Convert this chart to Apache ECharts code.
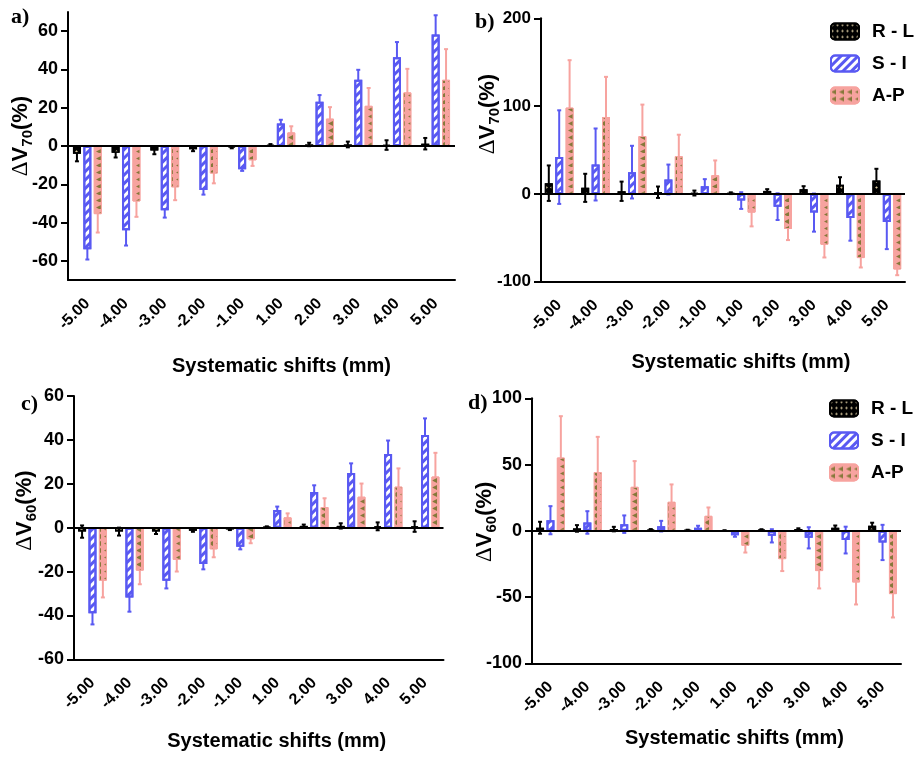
<!DOCTYPE html>
<html><head><meta charset="utf-8">
<script src="https://cdn.jsdelivr.net/npm/echarts@6/dist/echarts.min.js"></script>
<style>html,body{margin:0;padding:0;background:#fff}#c{width:918px;height:762px}</style>
</head><body><div id="c"></div>
<script>
const categories = ['-5.00','-4.00','-3.00','-2.00','-1.00','1.00','2.00','3.00','4.00','5.00'];
const seriesNames = ['R - L','S - I','A-P'];

// Panel a: ΔV70 (left)
const aRL = [-4, -3.5, -2.3, -1.7, -0.7, 0.5, 0.8, 0.8, 0.5, 1.2];
const aRLerr = [4, 2.5, 2, 1, 0.5, 0.5, 0.9, 1.5, 2.5, 3];
const aSI = [-54, -44, -33.6, -23, -12.2, 11.7, 23.1, 34.6, 46.3, 58.3];
const aSIerr = [5.3, 8, 3.8, 2.4, 0.8, 2, 3.5, 5.2, 8, 10];
const aAP = [-35.6, -29, -21.6, -14.4, -7.5, 7.1, 14.3, 21, 28, 34.6];
const aAPerr = [9.6, 8, 6.7, 5.1, 2.9, 3.2, 6, 9.3, 12.3, 16];

// Panel b: ΔV70 (right)
const bRL = [12.2, 6.9, 3, 1.9, 1, 0.8, 3.4, 5.3, 10.3, 15.2];
const bRLerr = [20.2, 16, 11, 6.5, 2.8, 1, 2, 3.5, 8.7, 13.4];
const bSI = [41.9, 33.5, 24.8, 16.4, 8.8, -7.6, -14.5, -21.3, -27.4, -32];
const bSIerr = [53.3, 41, 30, 17, 8, 9.5, 15.2, 21.7, 25.9, 30.9];
const bAP = [98.3, 87.6, 65.9, 43, 21.3, -21.3, -40, -57.9, -73.1, -86.1];
const bAPerr = [54, 45.7, 35.8, 24.4, 16.8, 15.7, 12.6, 14.5, 10.7, 6.5];

// Panel c: ΔV60 (left)
const cRL = [-1.8, -1.8, -1.8, -1.4, -0.8, 0.3, 0.8, 0.8, 0.6, 0.5];
const cRLerr = [2.8, 1.8, 1.1, 0.5, 0.3, 0.3, 0.6, 1.2, 1.8, 2.4];
const cSI = [-39, -31.8, -24.2, -16.6, -8.7, 8.1, 16.3, 24.9, 33.6, 42.2];
const cSIerr = [5.1, 6.5, 3.5, 2.4, 1.2, 1.5, 3, 4.4, 6.1, 7.6];
const cAP = [-24.2, -19.6, -14.7, -9.9, -5.3, 4.7, 9.4, 14.1, 18.7, 23.3];
const cAPerr = [7.6, 6.2, 5.3, 3.6, 1.8, 1.8, 4, 6, 8.3, 10.8];

// Panel d: ΔV60 (right)
const dRL = [2.3, 1.8, 1.3, 0.8, 0.5, 0.2, 0.8, 1.3, 2.3, 3.8];
const dRLerr = [4.5, 2.5, 1.7, 0.5, 0.3, 0.2, 0.4, 0.6, 1.7, 2.3];
const dSI = [8, 6.3, 5, 3.5, 2.3, -3.3, -3.8, -5.3, -7, -8.8];
const dSIerr = [10.6, 8.5, 6.6, 4, 1.5, 1.2, 5, 8, 10.1, 13.3];
const dAP = [55.3, 44.3, 33.2, 21.9, 11.3, -11.3, -21.4, -30.4, -39, -47.8];
const dAPerr = [31.2, 26.6, 19.4, 13.1, 6.3, 5.1, 9, 13.1, 16.6, 17.6];

const aTicks = [-60, -40, -20, 0, 20, 40, 60];
const bTicks = [-100, 0, 100, 200];
const cTicks = [-60, -40, -20, 0, 20, 40, 60];
const dTicks = [-100, -50, 0, 50, 100];

const FONT = 'Liberation Sans, Arial, sans-serif';
const BLUE = '#5959f2';
const PINK = '#f7a39f';
const OLIVE = '#86783a';

const styles = [
  { color: '#000', borderColor: '#000', borderWidth: 1.5,
    decal: { symbol: 'diamond', symbolSize: 0.9, color: '#d9c9a0', dashArrayX: [3, 2], dashArrayY: [3, 3] } },
  { color: '#fff', borderColor: BLUE, borderWidth: 2,
    decal: { symbol: 'rect', symbolSize: 1, color: BLUE, dashArrayX: [1, 0], dashArrayY: [3, 2.5], rotation: -Math.PI / 4 } },
  { color: PINK, borderColor: PINK, borderWidth: 1,
    decal: { symbol: 'triangle', symbolSize: 1, color: OLIVE, dashArrayX: [5, 2], dashArrayY: [5, 3], rotation: -Math.PI / 2 } }
];
const errColors = ['#000', BLUE, PINK];

const panels = [
  { vals: [aRL, aSI, aAP], errs: [aRLerr, aSIerr, aAPerr], ticks: aTicks, min: -70, max: 70,
    grid: { left: 68, right: 463, top: 12, bottom: 482 }, ylab: 18, sub: '70', nameGap: 33, namePad: 20, xGap: 76, xShift: 40 },
  { vals: [bRL, bSI, bAP], errs: [bRLerr, bSIerr, bAPerr], ticks: bTicks, min: -100, max: 200,
    grid: { left: 541, right: 13, top: 18.3, bottom: 480.3 }, ylab: 17, sub: '70', nameGap: 39, namePad: 72, xGap: 71, xShift: 36 },
  { vals: [cRL, cSI, cAP], errs: [cRLerr, cSIerr, cAPerr], ticks: cTicks, min: -60, max: 60,
    grid: { left: 74, right: 474.5, top: 396, bottom: 102.7 }, ylab: 18, sub: '60', nameGap: 35, namePad: 34, xGap: 72, xShift: 36 },
  { vals: [dRL, dSI, dAP], errs: [dRLerr, dSIerr, dAPerr], ticks: dTicks, min: -100, max: 100,
    grid: { left: 532, right: 17, top: 398.3, bottom: 98.7 }, ylab: 18, sub: '60', nameGap: 33, namePad: 18, xGap: 65, xShift: 36 }
];

const grid = [], xAxis = [], yAxis = [], series = [];
const BW = 8, GAP = 0.3;
panels.forEach((p, gi) => {
  grid.push(p.grid);
  xAxis.push({
    type: 'category', gridIndex: gi, data: categories,
    axisLine: { onZero: false, lineStyle: { color: '#000', width: 2 } },
    axisTick: { alignWithLabel: true, length: 6, lineStyle: { width: 2, color: '#000' } },
    axisLabel: { interval: 0, rotate: 45, fontSize: 16, fontWeight: 'bold', color: '#000', fontFamily: FONT, margin: 21 },
    name: 'Systematic shifts (mm)', nameLocation: 'middle', nameGap: p.xGap, nameMoveOverlap: false,
    nameTextStyle: { fontSize: 20, fontWeight: 'bold', color: '#000', fontFamily: FONT, padding: [0, 0, 0, p.xShift] }
  });
  yAxis.push({
    type: 'value', gridIndex: gi, min: p.min, max: p.max,
    splitLine: { show: false },
    axisLine: { show: true, lineStyle: { color: '#000', width: 2 } },
    axisTick: { show: true, length: 7, customValues: p.ticks, lineStyle: { width: 2, color: '#000' } },
    axisLabel: { customValues: p.ticks, fontSize: p.ylab, fontWeight: 'bold', color: '#000', fontFamily: FONT, margin: 10 },
    name: '{d|Δ}{a|V}{s|' + p.sub + '}{a|(%)}', nameLocation: 'middle', nameGap: p.nameGap, nameRotate: 90,
    nameMoveOverlap: false,
    nameTextStyle: {
      padding: [0, 0, 0, p.namePad],
      rich: {
        d: { fontFamily: 'Liberation Serif, serif', fontSize: 23, color: '#000', lineHeight: 28 },
        a: { fontFamily: FONT, fontSize: 22, fontWeight: 'bold', color: '#000', lineHeight: 28 },
        s: { fontFamily: FONT, fontSize: 15, fontWeight: 'bold', color: '#000', lineHeight: 28, verticalAlign: 'bottom', padding: [7, 0, 0, 0] }
      }
    }
  });
  p.vals.forEach((vals, k) => {
    const s = {
      type: 'bar', name: seriesNames[k], xAxisIndex: gi, yAxisIndex: gi,
      data: vals, barWidth: BW, barGap: (GAP * 100) + '%', z: 3,
      itemStyle: styles[k]
    };
    if (k === 0) {
      s.markLine = { silent: true, symbol: 'none', label: { show: false },
        lineStyle: { color: '#000', width: 2, type: 'solid' }, data: [{ yAxis: 0 }] };
    }
    series.push(s);
  });
  p.vals.forEach((vals, k) => {
    const errs = p.errs[k];
    const off = (k - 1) * BW * (1 + GAP);
    series.push({
      type: 'custom', name: seriesNames[k] + ' err', xAxisIndex: gi, yAxisIndex: gi, z: 1, silent: true,
      data: vals.map((v, i) => [i, v, errs[i]]),
      encode: { x: 0, y: 1 },
      renderItem: function (params, api) {
        const i = api.value(0), v = api.value(1), e = api.value(2);
        const lo = api.coord([i, v - e]);
        const hi = api.coord([i, v + e]);
        const x = lo[0] + off;
        const st = { stroke: errColors[k], lineWidth: 2 };
        return { type: 'group', children: [
          { type: 'line', shape: { x1: x, y1: lo[1], x2: x, y2: hi[1] }, style: st },
          { type: 'line', shape: { x1: x - 2, y1: lo[1], x2: x + 2, y2: lo[1] }, style: st },
          { type: 'line', shape: { x1: x - 2, y1: hi[1], x2: x + 2, y2: hi[1] }, style: st }
        ] };
      }
    });
  });
});

const legendCommon = {
  orient: 'vertical', itemWidth: 28, itemHeight: 16, itemGap: 13,
  data: seriesNames, selectedMode: false,
  textStyle: { fontSize: 19, fontWeight: 'bold', color: '#000', fontFamily: FONT, padding: [0, 0, 0, 8] }
};

const labelStyle = { fontFamily: 'Liberation Serif, serif', fontSize: 22, fontWeight: 'bold', color: '#000' };

const chart = echarts.init(document.getElementById('c'), null, { renderer: 'canvas' });
chart.setOption({
  animation: false,
  backgroundColor: '#fff',
  title: [
    { text: 'a)', left: 6, top: 1, textStyle: labelStyle },
    { text: 'b)', left: 470, top: 6, textStyle: labelStyle },
    { text: 'c)', left: 16, top: 388, textStyle: labelStyle },
    { text: 'd)', left: 463, top: 387, textStyle: labelStyle }
  ],
  legend: [
    Object.assign({ left: 825, top: 17 }, legendCommon),
    Object.assign({ left: 824, top: 394 }, legendCommon)
  ],
  grid: grid, xAxis: xAxis, yAxis: yAxis, series: series
});
</script></body></html>
